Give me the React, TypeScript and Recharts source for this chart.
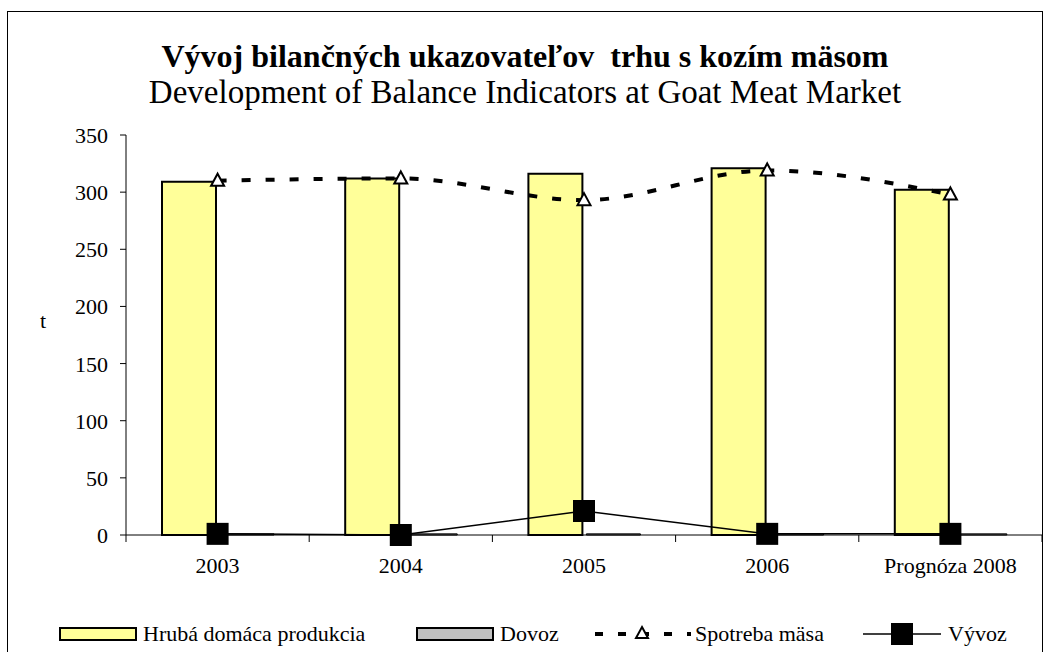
import { ComposedChart, Bar, Line, XAxis, YAxis } from 'recharts'

const YEARS = ['2003', '2004', '2005', '2006', 'Prognóza 2008']
const PRODUKCIA = [309, 312, 316, 321, 302]
const DOVOZ = [1, 1, 1, 1, 1]
const SPOTREBA = [310, 312, 293, 319, 298]
const VYVOZ = [1, 0, 21, 1, 1]
const Y_TICKS = [0, 50, 100, 150, 200, 250, 300, 350]

const data = YEARS.map((year, i) => ({
    year,
    produkcia: PRODUKCIA[i],
    dovoz: DOVOZ[i],
    spotreba: SPOTREBA[i],
    vyvoz: VYVOZ[i]
}))

const FONT = 'Liberation Serif, Times New Roman, serif'

const Triangle = (props: any) => {
    const { cx, cy } = props
    if (cx == null || cy == null) return null
    return (
        <path
            d={`M${cx},${cy - 7} L${cx + 6.5},${cy + 5} L${cx - 6.5},${cy + 5} Z`}
            fill="#fff"
            stroke="#000"
            strokeWidth={2}
            strokeDasharray="none"
        />
    )
}

const Square = (props: any) => {
    const { cx, cy } = props
    if (cx == null || cy == null) return null
    return <rect x={cx - 11} y={cy - 11} width={22} height={22} fill="#000" />
}

const XTick = (props: any) => {
    const { x, y, payload, index } = props
    const off = payload?.offset ?? 91.5
    return (
        <g>
            <line x1={x - off} y1={y} x2={x - off} y2={y + 7} stroke="#000" />
            {index === YEARS.length - 1 && (
                <line x1={x + off} y1={y} x2={x + off} y2={y + 7} stroke="#000" />
            )}
            <text x={x} y={y + 38} textAnchor="middle" style={{ fontSize: 22, fontFamily: FONT }} fill="#000">
                {payload.value}
            </text>
        </g>
    )
}

const YTick = (props: any) => {
    const { x, y, payload } = props
    return (
        <text x={x} y={y} dy={8} textAnchor="end" style={{ fontSize: 22, fontFamily: FONT }} fill="#000">
            {payload.value}
        </text>
    )
}

// legend: symbol box placed at `left` with `w` width, label right after
const LegendItem = ({ left, w, textLeft, symbol, label }: { left: number; w: number; textLeft: number; symbol: any; label: string }) => (
    <>
        <svg style={{ position: 'absolute', left, top: 0 }} width={w} height={24}>{symbol}</svg>
        <span style={{ position: 'absolute', left: textLeft, top: 0, whiteSpace: 'nowrap' }}>{label}</span>
    </>
)

export default function App() {
    return (
        <div style={{ position: 'absolute', left: 0, top: 0, width: 1045, height: 652, overflow: 'hidden', background: '#fff', fontFamily: FONT }}>
            <div style={{ position: 'absolute', left: 7, top: 11, width: 1036, height: 700, border: '1px solid #000', boxSizing: 'border-box' }} />
            <div style={{ position: 'absolute', left: 0, width: 1050, top: 38, textAlign: 'center', fontSize: 32, fontWeight: 'bold', whiteSpace: 'pre', lineHeight: '36px', fontFamily: FONT }}>
                {'Vývoj bilančných ukazovateľov  trhu s kozím mäsom'}
            </div>
            <div style={{ position: 'absolute', left: 0, width: 1050, top: 74, textAlign: 'center', fontSize: 33, lineHeight: '36px', fontFamily: FONT }}>
                Development of Balance Indicators at Goat Meat Market
            </div>
            <div style={{ position: 'absolute', left: 40, top: 308, fontSize: 22, fontFamily: FONT }}>t</div>

            <div style={{ position: 'absolute', left: 0, top: 0 }}>
                <ComposedChart
                    width={1045}
                    height={652}
                    data={data}
                    margin={{ top: 135, right: 3, left: 46, bottom: 77 }}
                    barSize={54}
                    barGap={4}
                >
                    <XAxis
                        dataKey="year"
                        height={40}
                        axisLine={{ stroke: '#000' }}
                        tickLine={false}
                        tickSize={0}
                        tickMargin={0}
                        interval={0}
                        tick={<XTick />}
                    />
                    <YAxis
                        width={80}
                        domain={[0, 350]}
                        ticks={Y_TICKS}
                        interval={0}
                        axisLine={{ stroke: '#000' }}
                        tickLine={{ stroke: '#000' }}
                        tickSize={6}
                        tickMargin={12}
                        tick={<YTick />}
                    />
                    <Bar dataKey="produkcia" fill="#FFFF99" stroke="#000" strokeWidth={2} isAnimationActive={false} />
                    <Bar dataKey="dovoz" fill="#C0C0C0" stroke="#000" strokeWidth={1} isAnimationActive={false} />
                    <Line
                        dataKey="spotreba"
                        type="monotone"
                        stroke="#000"
                        strokeWidth={4}
                        strokeDasharray="9 15"
                        dot={<Triangle />}
                        activeDot={false}
                        isAnimationActive={false}
                    />
                    <Line
                        dataKey="vyvoz"
                        type="linear"
                        stroke="#000"
                        strokeWidth={1.5}
                        dot={<Square />}
                        activeDot={false}
                        isAnimationActive={false}
                    />
                </ComposedChart>
            </div>

            <div style={{ position: 'absolute', left: 0, top: 622, width: 1045, height: 24, fontSize: 22, lineHeight: '24px', fontFamily: FONT }}>
                <LegendItem
                    left={59} w={80} textLeft={143}
                    label="Hrubá domáca produkcia"
                    symbol={<rect x={1} y={6} width={76} height={12} fill="#FFFF99" stroke="#000" strokeWidth={2} />}
                />
                <LegendItem
                    left={416} w={80} textLeft={500}
                    label="Dovoz"
                    symbol={<rect x={1} y={6} width={76} height={12} fill="#C0C0C0" stroke="#000" strokeWidth={2} />}
                />
                <LegendItem
                    left={595} w={96} textLeft={695}
                    label="Spotreba mäsa"
                    symbol={
                        <g>
                            <line x1={0} y1={12} x2={96} y2={12} stroke="#000" strokeWidth={4} strokeDasharray="8 15" />
                            <path d="M47,5 L53,16 L41,16 Z" fill="#fff" stroke="#000" strokeWidth={2} />
                        </g>
                    }
                />
                <LegendItem
                    left={863} w={78} textLeft={948}
                    label="Vývoz"
                    symbol={
                        <g>
                            <line x1={0} y1={12} x2={78} y2={12} stroke="#000" strokeWidth={1.5} />
                            <rect x={28} y={1} width={22} height={22} fill="#000" />
                        </g>
                    }
                />
            </div>
        </div>
    )
}
